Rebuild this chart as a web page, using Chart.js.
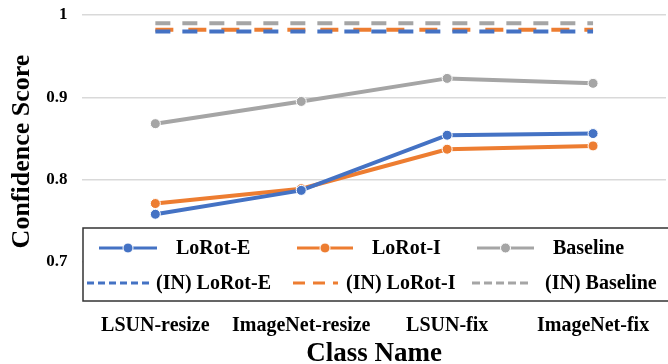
<!DOCTYPE html>
<html>
<head>
<meta charset="utf-8">
<script src="https://cdn.jsdelivr.net/npm/chart.js@4"></script>
<style>
  html, body { margin: 0; padding: 0; background: #fff; overflow: hidden; }
</style>
</head>
<body>
<canvas id="chart" width="672" height="364"></canvas>
<script>
const classNames = ["LSUN-resize", "ImageNet-resize", "LSUN-fix", "ImageNet-fix"];
const lorotE = [0.758, 0.787, 0.854, 0.856];
const lorotI = [0.771, 0.789, 0.837, 0.841];
const baseline = [0.868, 0.895, 0.923, 0.917];
const inLorotE = [0.980, 0.980, 0.980, 0.980];
const inLorotI = [0.982, 0.982, 0.982, 0.982];
const inBaseline = [0.990, 0.990, 0.990, 0.990];
const yTicks = [0.7, 0.8, 0.9, 1];

const serif = '"Liberation Serif", "Times New Roman", serif';
const blue = "#4472C4", orange = "#ED7D31", gray = "#A5A5A5";

function solid(label, data, color) {
  return {
    label, data,
    borderColor: color, backgroundColor: color,
    borderWidth: 4,
    pointRadius: 5, pointBorderColor: "#fff", pointBorderWidth: 1,
    pointBackgroundColor: color,
    tension: 0
  };
}
function dashed(label, data, color, dash) {
  return {
    label, data,
    borderColor: color, backgroundColor: color,
    borderWidth: 4, borderDash: dash,
    pointRadius: 0,
    tension: 0
  };
}

// legend drawn as a framed box inside the plot, like the original
const boxLegend = {
  id: "boxLegend",
  afterDraw(chart) {
    const ctx = chart.ctx;
    const ds = chart.data.datasets;
    const items = [
      { i: 0, x0: 99, x1: 157, tx: 176, y: 248 },
      { i: 1, x0: 297, x1: 353, tx: 372, y: 248 },
      { i: 2, x0: 477, x1: 534, tx: 553, y: 248 },
      { i: 3, x0: 87, x1: 150, tx: 156, y: 283, dash: [7, 4] },
      { i: 4, x0: 293, x1: 338, tx: 346, y: 283, dash: [12, 8] },
      { i: 5, x0: 472, x1: 530, tx: 545, y: 283, dash: [8, 4] }
    ];
    ctx.save();
    ctx.fillStyle = "#fff";
    ctx.fillRect(83, 228, 600, 73);
    ctx.strokeStyle = "#333";
    ctx.lineWidth = 1.5;
    ctx.strokeRect(83, 228, 600, 73);
    ctx.font = "bold 20px " + serif;
    ctx.textBaseline = "middle";
    items.forEach(it => {
      const d = ds[it.i];
      ctx.strokeStyle = d.borderColor;
      ctx.lineWidth = 3;
      ctx.setLineDash(it.dash || []);
      ctx.beginPath();
      ctx.moveTo(it.x0, it.y);
      ctx.lineTo(it.x1, it.y);
      ctx.stroke();
      ctx.setLineDash([]);
      if (!it.dash) {
        ctx.beginPath();
        ctx.arc((it.x0 + it.x1) / 2, it.y, 5, 0, Math.PI * 2);
        ctx.fillStyle = d.borderColor;
        ctx.fill();
        ctx.strokeStyle = "#fff";
        ctx.lineWidth = 1;
        ctx.stroke();
      }
      ctx.fillStyle = "#000";
      ctx.fillText(d.label, it.tx, it.y + 1);
    });
    ctx.restore();
  }
};

new Chart(document.getElementById("chart"), {
  type: "line",
  data: {
    labels: classNames,
    datasets: [
      solid("LoRot-E", lorotE, blue),
      solid("LoRot-I", lorotI, orange),
      solid("Baseline", baseline, gray),
      dashed("(IN) LoRot-E", inLorotE, blue, [15, 12]),
      dashed("(IN) LoRot-I", inLorotI, orange, [18, 15]),
      dashed("(IN) Baseline", inBaseline, gray, [15, 12])
    ]
  },
  options: {
    responsive: false,
    animation: false,
    layout: { padding: { top: 15, left: 0, right: 0, bottom: 0 } },
    plugins: {
      legend: { display: false },
      tooltip: { enabled: false }
    },
    scales: {
      x: {
        offset: true,
        grid: { display: false },
        border: { display: false },
        ticks: {
          padding: 44, color: "#000", maxRotation: 0, autoSkip: false,
          font: { family: serif, size: 20, weight: "bold" }
        },
        title: {
          display: true, text: "Class Name", color: "#000",
          padding: { top: 0, bottom: -4 },
          font: { family: serif, size: 27, weight: "bold", lineHeight: 1 }
        },
        afterFit: s => { s.height = 102; s.paddingLeft = 0; s.paddingRight = 0; }
      },
      y: {
        min: 0.7, max: 1,
        afterBuildTicks: s => { s.ticks = yTicks.map(v => ({ value: v })); },
        grid: { color: "#d9d9d9", lineWidth: 1.5, drawTicks: false },
        border: { display: false },
        ticks: {
          padding: 15, color: "#000",
          font: { family: serif, size: 17, weight: "bold" },
          callback: v => String(v)
        },
        title: {
          // trailing spaces nudge the rotated title down, as in the original
          display: true, text: "Confidence Score    ", color: "#000",
          padding: { top: 9.5, bottom: 0 },
          font: { family: serif, size: 26, weight: "bold", lineHeight: 1 }
        },
        afterFit: s => { s.width = 82.4; s.paddingTop = 0; s.paddingBottom = 0; }
      }
    }
  },
  plugins: [boxLegend]
});
</script>
</body>
</html>
